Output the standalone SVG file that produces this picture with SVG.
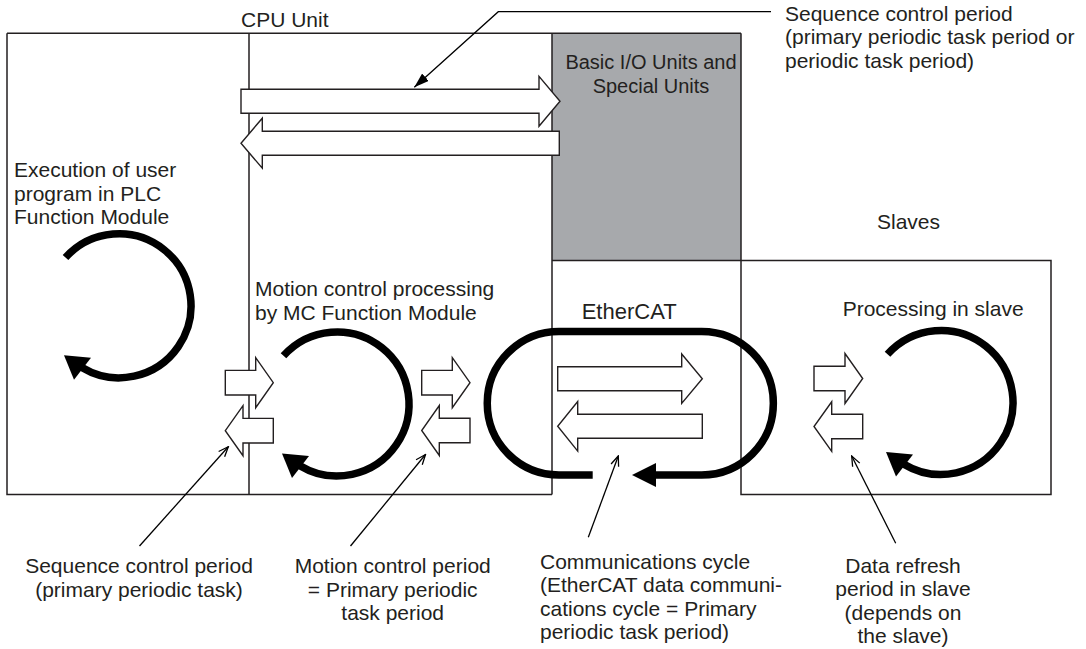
<svg xmlns="http://www.w3.org/2000/svg" width="1086" height="649" viewBox="0 0 1086 649">
<defs>
<style>
.ln{fill:none;stroke:#231f20;stroke-width:1.5}
.blk{fill:#fff;stroke:#231f20;stroke-width:1.4;stroke-linejoin:miter}
.cyc{fill:none;stroke:#000;stroke-width:7.5}
.t{font-family:"Liberation Sans",Arial,Helvetica,sans-serif;font-size:21px;fill:#231f20}
.c{text-anchor:middle}
.ldr{fill:none;stroke:#000;stroke-width:1.3}
</style>
<marker id="open" markerWidth="12" markerHeight="10" refX="11" refY="5" orient="auto" markerUnits="userSpaceOnUse"><path d="M1,1 L11,5 L1,9" fill="none" stroke="#000" stroke-width="1.3"/></marker>
<marker id="solid" markerWidth="16" markerHeight="10" refX="15" refY="5" orient="auto" markerUnits="userSpaceOnUse"><path d="M0,0 L15,5 L0,10 Z" fill="#000"/></marker>
<g id="cycle"><path class="cyc" d="M-53.5,-48.2 A72 72 0 1 1 -37.1,61.7"/><path d="M-55,49.5 L-45,74 L-28,52 Z" fill="#000"/></g>
</defs>
<rect width="1086" height="649" fill="#fff"/>

<g id="basic-io">
<rect x="552" y="33.3" width="189" height="227.2" fill="#a7a9ac"/>
<text class="t c" style="font-size:20px" x="651" y="69">Basic I/O Units and</text>
<text class="t c" style="font-size:20px" x="651" y="93">Special Units</text>
</g>

<g id="frame">
<path class="ln" d="M7,33.3 H741 M7,33.3 V494.5 H552 M249,33.3 V494.5 M552,33.3 V494.5 M741,33.3 V494.5 H1051 V260.5 H552"/>
</g>

<g id="cpu-unit">
<text class="t" x="241" y="26.7">CPU Unit</text>
</g>

<g id="plc-module">
<text class="t" x="14" y="177">Execution of user</text>
<text class="t" x="14" y="200.5">program in PLC</text>
<text class="t" x="14" y="224">Function Module</text>
<use href="#cycle" transform="translate(119,305.8)"/>
</g>

<g id="mc-module">
<text class="t" x="255" y="296">Motion control processing</text>
<text class="t" x="255" y="319.5">by MC Function Module</text>
<use href="#cycle" transform="translate(337,404)"/>
</g>

<g id="ethercat">
<text class="t" style="font-size:22px" x="581.7" y="319">EtherCAT</text>
<path class="cyc" d="M592.7,475 H559 A71.75 71.75 0 0 1 559,331.5 H701.6 A71.75 71.75 0 0 1 701.6,475 H654"/>
<path d="M632,475 L656,463 L656,487 Z" fill="#000"/>
</g>

<g id="slaves">
<text class="t" x="877" y="229">Slaves</text>
<text class="t" x="842.7" y="316">Processing in slave</text>
<use href="#cycle" transform="translate(941,402.5)"/>
</g>

<g id="data-arrows">
<path class="blk" d="M241,89.3 H539 V76.3 L560,101.3 L539,126.3 V113.3 H241 Z"/>
<path class="blk" d="M559.3,131.2 H262.3 V118.2 L241,143.2 L262.3,168.2 V155.2 H559.3 Z"/>
<path class="blk" d="M225.3,370.4 H255.7 V357.7 L273.3,382.7 L255.7,407.7 V395 H225.3 Z"/>
<path class="blk" d="M273.3,418.4 H243 V405.7 L225.3,430.7 L243,455.7 V443 H273.3 Z"/>
<path class="blk" d="M421.7,370.4 H452.3 V357.7 L470,382.7 L452.3,407.7 V395 H421.7 Z"/>
<path class="blk" d="M470,418.3 H439.3 V405.5 L421.7,430.5 L439.3,455.5 V442.7 H470 Z"/>
<path class="blk" d="M557.7,366.7 H681.7 V354 L702.3,378.7 L681.7,403.4 V390.7 H557.7 Z"/>
<path class="blk" d="M702.3,414.3 H577.7 V401.5 L557.7,426.3 L577.7,451.1 V438.3 H702.3 Z"/>
<path class="blk" d="M814,366.3 H845 V353.5 L862.7,378.5 L845,403.5 V390.7 H814 Z"/>
<path class="blk" d="M862.7,414.3 H831.7 V401.8 L814,426.5 L831.7,451.3 V438.7 H862.7 Z"/>
</g>

<g id="connectors">
<polyline class="ldr" points="771,11.7 498.3,11.7 414.3,87.3" marker-end="url(#solid)"/>
<line class="ldr" x1="139.5" y1="546" x2="228.3" y2="446.7" marker-end="url(#open)"/>
<line class="ldr" x1="350.5" y1="546" x2="425.5" y2="454.5" marker-end="url(#open)"/>
<line class="ldr" x1="588.3" y1="537.3" x2="618.3" y2="456" marker-end="url(#open)"/>
<line class="ldr" x1="895.7" y1="543.3" x2="851.7" y2="456" marker-end="url(#open)"/>
</g>

<g id="labels">
<text class="t" x="785" y="20.7">Sequence control period</text>
<text class="t" x="785" y="44.2">(primary periodic task period or</text>
<text class="t" x="785" y="67.7">periodic task period)</text>
<text class="t c" x="139" y="573">Sequence control period</text>
<text class="t c" x="139" y="596.5">(primary periodic task)</text>
<text class="t c" x="392.7" y="573">Motion control period</text>
<text class="t c" x="392.7" y="596.5">= Primary periodic</text>
<text class="t c" x="392.7" y="620">task period</text>
<text class="t" x="540" y="568.5">Communications cycle</text>
<text class="t" x="540" y="592">(EtherCAT data communi-</text>
<text class="t" x="540" y="615.5">cations cycle = Primary</text>
<text class="t" x="540" y="639">periodic task period)</text>
<text class="t c" x="903" y="572.5">Data refresh</text>
<text class="t c" x="903" y="596">period in slave</text>
<text class="t c" x="903" y="619.5">(depends on</text>
<text class="t c" x="903" y="643">the slave)</text>
</g>
</svg>
